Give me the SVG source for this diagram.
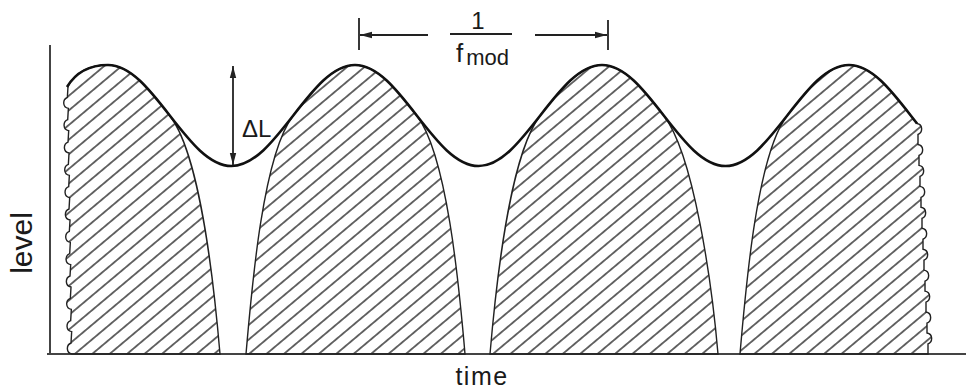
<svg xmlns="http://www.w3.org/2000/svg" width="966" height="392" viewBox="0 0 966 392">
<style>
.axis{stroke:#444;stroke-width:2;fill:none}
.lobe{fill:url(#hatch);stroke:#222;stroke-width:1.4}
.env{fill:none;stroke:#111;stroke-width:2.6}
.dim{stroke:#222;stroke-width:1.8;fill:none}
.lbl{font-family:"Liberation Sans",Arial,sans-serif;fill:#1a1a1a}
</style>
<defs>
<pattern id="hatch" patternUnits="userSpaceOnUse" width="11.2" height="11.2" patternTransform="rotate(50)">
<line x1="5.6" y1="-1" x2="5.6" y2="12.2" stroke="#2a2a2a" stroke-width="1.4"/>
</pattern>
<marker id="ah" viewBox="0 0 12 8" refX="12" refY="4" markerWidth="12" markerHeight="8" markerUnits="userSpaceOnUse" orient="auto-start-reverse">
<path d="M0,0.8 L12,4 L0,7.2 Z" fill="#222"/>
</marker>
</defs>

<g id="axes">
<line class="axis" x1="50" y1="45" x2="50" y2="355"/>
<line class="axis" x1="47" y1="354" x2="966" y2="354"/>
</g>

<g id="lobe1">
<path class="lobe" d="M72,354 c -6,-1 -6,-9 -1,-11 l 0.67,-11.33 c -6,-1 -6,-9 -1,-11 l 0.67,-11.33 c -6,-1 -6,-9 -1,-11 l 0.67,-11.33 c -6,-1 -6,-9 -1,-11 l 0.67,-11.33 c -6,-1 -6,-9 -1,-11 l 0.67,-11.33 c -6,-1 -6,-9 -1,-11 l 0.67,-11.33 c -6,-1 -6,-9 -1,-11 l 0.67,-11.33 c -6,-1 -6,-9 -1,-11 l 0.67,-11.33 c -6,-1 -6,-9 -1,-11 l 0.67,-11.33 c -6,-1 -6,-9 -1,-11 l 0.67,-11.33 c -6,-1 -6,-9 -1,-11 l 0.67,-11.33 c -6,-1 -6,-9 -1,-11 l 0.67,-11.33 C 76,72 90,65 108,65 c 22.35,0 41.61,24.63 61.75,50.5 c 30,38.5 44.25,168.5 50.25,238.5 Z"/>
</g>
<g id="lobe2">
<path class="lobe" d="M246,354 C 252,284 263.25,154 293.25,115.5 c 20.14,-25.87 39.40,-50.5 61.75,-50.5 c 22.35,0 41.61,24.63 61.75,50.5 c 30,38.5 42.25,168.5 48.25,238.5 Z"/>
</g>
<g id="lobe3">
<path class="lobe" d="M490,354 C 496,284 510.25,154 540.25,115.5 c 20.14,-25.87 39.40,-50.5 61.75,-50.5 c 22.35,0 41.61,24.63 61.75,50.5 c 30,38.5 48.25,168.5 54.25,238.5 Z"/>
</g>
<g id="lobe4">
<path class="lobe" d="M740,354 C 746,284 757.25,154 787.25,115.5 c 20.14,-25.87 39.40,-50.5 61.75,-50.5 c 22.35,0 41.61,24.63 61.75,50.5 L 917,123.5 c 6,1 6,9 1,11 l 0,9.95 c 6,1 6,9 1,11 l 0,9.95 c 6,1 6,9 1,11 l 0,9.95 c 6,1 6,9 1,11 l 0,9.95 c 6,1 6,9 1,11 l 0,9.95 c 6,1 6,9 1,11 l 0,9.95 c 6,1 6,9 1,11 l 0,9.95 c 6,1 6,9 1,11 l 0,9.95 c 6,1 6,9 1,11 l 0,9.95 c 6,1 6,9 1,11 l 0,9.95 c 6,1 6,9 1,11 l 0,9.95 L 740,354 Z"/>
</g>

<g id="envelope">
<path class="env" d="M67,87 C 76,72 90,65 108,65 c 22.35,0 41.61,24.63 61.75,50.5 c 20.14,25.87 39.40,50.5 61.75,50.5 c 22.35,0 41.61,-24.63 61.75,-50.5 c 20.14,-25.87 39.40,-50.5 61.75,-50.5 c 22.35,0 41.61,24.63 61.75,50.5 c 20.14,25.87 39.40,50.5 61.75,50.5 c 22.35,0 41.61,-24.63 61.75,-50.5 c 20.14,-25.87 39.40,-50.5 61.75,-50.5 c 22.35,0 41.61,24.63 61.75,50.5 c 20.14,25.87 39.40,50.5 61.75,50.5 c 22.35,0 41.61,-24.63 61.75,-50.5 c 20.14,-25.87 39.40,-50.5 61.75,-50.5 c 22.35,0 41.61,24.63 61.75,50.5 L 917,123.5"/>
</g>

<g id="connectors">
<line class="dim" x1="233" y1="66" x2="233" y2="165" marker-start="url(#ah)" marker-end="url(#ah)"/>
<line class="dim" x1="359" y1="18" x2="359" y2="50"/>
<line class="dim" x1="608" y1="20" x2="608" y2="50"/>
<line class="dim" x1="428" y1="35" x2="360" y2="35" marker-end="url(#ah)"/>
<line class="dim" x1="535" y1="35" x2="607" y2="35" marker-end="url(#ah)"/>
<line class="dim" x1="450" y1="34" x2="512" y2="34"/>
</g>

<g id="labels">
<text class="lbl" x="478" y="29" font-size="24" text-anchor="middle">1</text>
<text class="lbl" x="456" y="62" font-size="26">f<tspan font-size="22" dx="3" dy="3">mod</tspan></text>
<text class="lbl" x="242" y="137" font-size="24">ΔL</text>
<text class="lbl" font-size="30" text-anchor="middle" transform="translate(32,243) rotate(-90)">level</text>
<text class="lbl" x="482" y="385" font-size="25" letter-spacing="1.5" text-anchor="middle">time</text>
</g>
</svg>
